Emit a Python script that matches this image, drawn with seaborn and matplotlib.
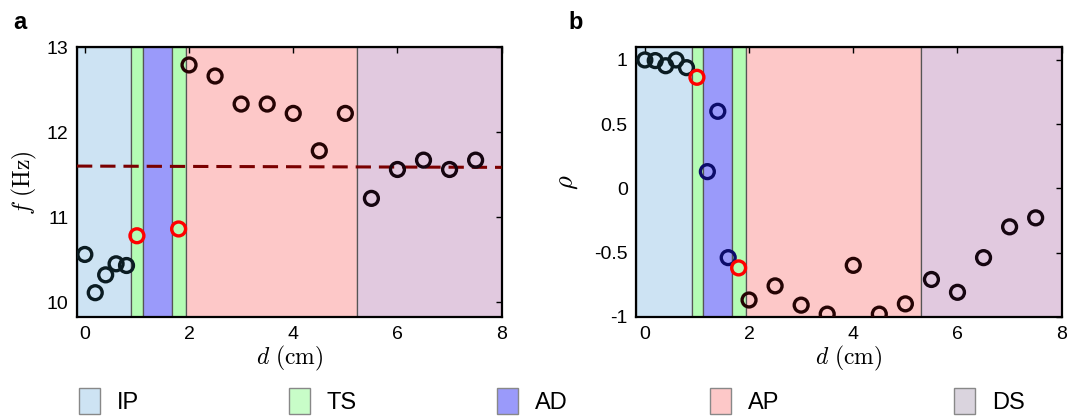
import matplotlib
matplotlib.use("Agg")
import matplotlib.pyplot as plt
import matplotlib.patches as mpatches
import seaborn as sns
import pandas as pd

# ---------------- data ----------------
region_names = ["IP", "TS", "AD", "TS", "AP", "DS"]
region_edges_a = [-0.15, 0.88, 1.12, 1.67, 1.95, 5.23, 8.0]
region_edges_b = [-0.17, 0.91, 1.11, 1.68, 1.95, 5.30, 8.0]

legend_labels = ["IP", "TS", "AD", "AP", "DS"]

d_a = [0, 0.2, 0.4, 0.6, 0.8, 1.0, 1.8, 2.0, 2.5, 3.0, 3.5, 4.0, 4.5, 5.0,
       5.5, 6.0, 6.5, 7.0, 7.5]
f_a = [10.56, 10.11, 10.32, 10.45, 10.43, 10.78, 10.86, 12.79, 12.66, 12.33,
       12.33, 12.22, 11.78, 12.22, 11.22, 11.56, 11.67, 11.56, 11.67]
reg_a = ["IP"] * 5 + ["TS"] * 2 + ["AP"] * 7 + ["DS"] * 5

mean_line_x = [-0.15, 8.0]
mean_line_f = [11.60, 11.585]

d_b = [0, 0.2, 0.4, 0.6, 0.8, 1.0, 1.2, 1.4, 1.6, 1.8, 2.0, 2.5, 3.0, 3.5,
       4.0, 4.5, 5.0, 5.5, 6.0, 6.5, 7.0, 7.5]
rho_b = [1.0, 0.995, 0.955, 1.0, 0.94, 0.865, 0.13, 0.60, -0.54, -0.62, -0.87,
         -0.76, -0.91, -0.98, -0.60, -0.98, -0.90, -0.71, -0.81, -0.54, -0.30, -0.23]
reg_b = ["IP"] * 5 + ["TS"] + ["AD"] * 3 + ["TS"] + ["AP"] * 7 + ["DS"] * 5

xticks = [0, 2, 4, 6, 8]
yticks_a = [10, 11, 12, 13]
yticks_b = [-1, -0.5, 0, 0.5, 1]
yticklabels_b = ["-1", "-0.5", "0", "0.5", "1"]

# ---------------- style ----------------
fill_colors = {"IP": "#cde3f3", "TS": "#b4fcb4", "AD": "#9a9afa",
               "AP": "#fdc8c8", "DS": "#e1c9df"}
legend_colors = {"IP": "#cde3f3", "TS": "#c8fdc8", "AD": "#9a9afa",
                 "AP": "#fdc8c8", "DS": "#dad4de"}
marker_colors = {"IP": "#0b1c22", "TS": "#ff0000", "AD": "#0c0c6a",
                 "AP": "#250404", "DS": "#150510"}

sns.set_theme(style="white")
plt.rcParams["font.family"] = ["Liberation Sans", "DejaVu Sans"]
plt.rcParams["mathtext.fontset"] = "cm"
plt.rcParams["text.color"] = "black"
plt.rcParams["axes.labelcolor"] = "black"

fig = plt.figure(figsize=(10.77, 4.17), dpi=100)
ax_a = fig.add_axes([0.0715, 0.239, 0.3943, 0.648])
ax_b = fig.add_axes([0.5905, 0.239, 0.3953, 0.648])


def shade(ax, edges):
    for i, name in enumerate(region_names):
        ax.axvspan(edges[i], edges[i + 1], facecolor=fill_colors[name],
                   edgecolor="#555555", linewidth=0.9, zorder=0)


def points(ax, xs, ys, regs):
    df = pd.DataFrame({"d": xs, "v": ys, "r": regs})
    for name in ["IP", "AD", "AP", "DS", "TS"]:
        sub = df[df["r"] == name]
        if len(sub) == 0:
            continue
        sns.scatterplot(data=sub, x="d", y="v", ax=ax, s=100, marker="o",
                        facecolor="none", edgecolor=marker_colors[name],
                        linewidth=2.4, zorder=5, legend=False)


def style_axes(ax):
    ax.tick_params(direction="in", top=True, right=True, length=4, width=1,
                   labelsize=14, pad=6, colors="black")
    for sp in ax.spines.values():
        sp.set_visible(True)
        sp.set_color("black")
        sp.set_linewidth(1.6)
    ax.set_xticks(xticks)
    ax.set_xlabel(r"$d\ (\mathrm{cm})$", fontsize=17, labelpad=1, color="black")


# panel a
shade(ax_a, region_edges_a)
sns.lineplot(x=mean_line_x, y=mean_line_f, ax=ax_a, color="#7a0000",
             linewidth=2.2, dashes=False, zorder=4)
ax_a.lines[-1].set_dashes((5, 2.6))
points(ax_a, d_a, f_a, reg_a)
ax_a.set_xlim(region_edges_a[0], region_edges_a[-1])
ax_a.set_ylim(9.82, 13.0)
ax_a.set_yticks(yticks_a)
style_axes(ax_a)
ax_a.set_ylabel(r"$f\ (\mathrm{Hz})$", fontsize=17, labelpad=6, color="black")

# panel b
shade(ax_b, region_edges_b)
points(ax_b, d_b, rho_b, reg_b)
ax_b.set_xlim(region_edges_b[0], region_edges_b[-1])
ax_b.set_ylim(-1.005, 1.10)
ax_b.set_yticks(yticks_b)
ax_b.set_yticklabels(yticklabels_b)
style_axes(ax_b)
ax_b.set_ylabel(r"$\rho$", fontsize=19, labelpad=10, color="black")

fig.text(0.012, 0.945, "a", fontsize=17, fontweight="bold", ha="left",
         va="center", color="black")
fig.text(0.528, 0.945, "b", fontsize=17, fontweight="bold", ha="left",
         va="center", color="black")

# legend
leg_x = [79, 289, 497, 710, 954]
for lab, x in zip(legend_labels, leg_x):
    h = mpatches.Patch(facecolor=legend_colors[lab], edgecolor="#888888", linewidth=1)
    lg = fig.legend([h], [lab], loc="center left",
                    bbox_to_anchor=(x / 1077, 1 - 401 / 417),
                    frameon=False, fontsize=17, handlelength=0.9,
                    handleheight=1.35, handletextpad=0.7,
                    borderpad=0, borderaxespad=0, labelcolor="black")

fig.savefig("out.png", dpi=100)
